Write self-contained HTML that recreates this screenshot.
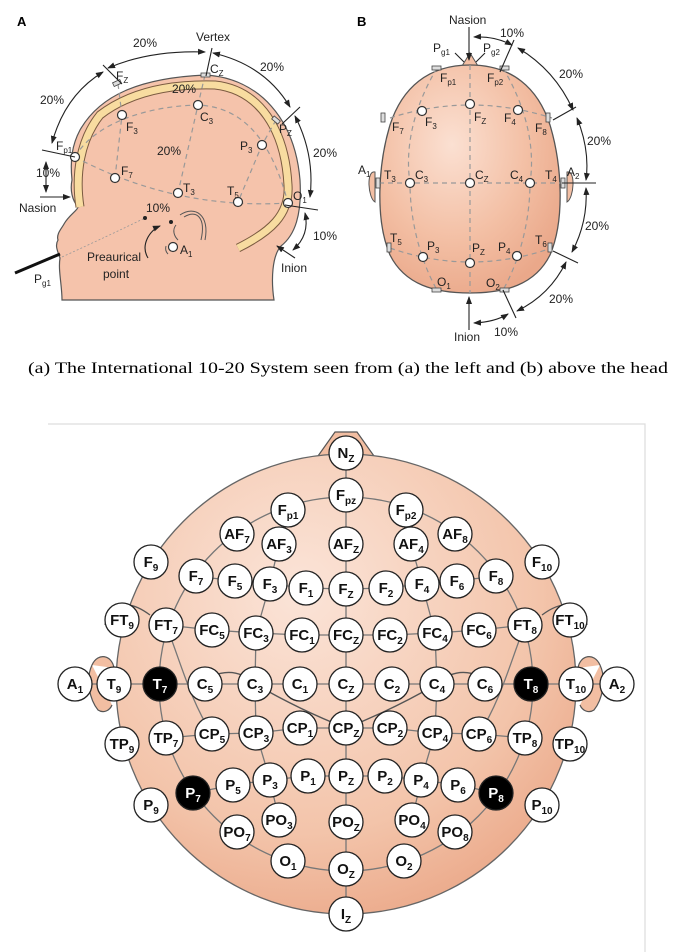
<!DOCTYPE html>
<html><head><meta charset="utf-8"><style>
html,body{margin:0;padding:0;background:#fff;}
svg{display:block;font-family:"Liberation Sans",Arial,sans-serif;}
.n circle{fill:#fff;stroke:#222;stroke-width:1.3}
.n text{font-size:15px;font-weight:bold;text-anchor:middle;fill:#111}
.b circle{fill:#000}
.b text{fill:#fff}
.s{font-size:10px}
.lbl{font-size:12px;fill:#222}
.sub{font-size:8px}
.e{fill:#fff;stroke:#333;stroke-width:1.2}
.d{fill:none;stroke:#999;stroke-width:1.2;stroke-dasharray:5,4}
.a{fill:none;stroke:#222;stroke-width:1.1}
</style></head><body>
<svg width="673" height="952" viewBox="0 0 673 952" xmlns="http://www.w3.org/2000/svg">
<defs>
<marker id="ar" markerWidth="8" markerHeight="8" refX="7" refY="4" orient="auto-start-reverse" markerUnits="userSpaceOnUse"><path d="M0,1 L8,4 L0,7 Z" fill="#222"/></marker>
<radialGradient id="hb" cx="0.4" cy="0.35" r="0.7"><stop offset="0" stop-color="#fbe0d2"/><stop offset="0.6" stop-color="#f3bfa4"/><stop offset="1" stop-color="#eaa88a"/></radialGradient>
<radialGradient id="hc" cx="0.4" cy="0.3" r="0.75"><stop offset="0" stop-color="#fbe4d8"/><stop offset="0.7" stop-color="#f3c4aa"/><stop offset="1" stop-color="#eba98a"/></radialGradient>
</defs>

<!-- ===== Panel A ===== -->
<text x="17" y="26" font-size="13" font-weight="bold">A</text>
<path d="M62,300 C62,285 58,270 60,258 C57,250 55,245 58,240 C56,234 62,228 64,224 C69,215 78,210 78,207 C72,200 70,190 72,180 C70,160 72,145 80,130 C100,95 140,78 205,75 C260,78 295,120 300,180 C302,215 295,235 281,246 C272,256 271,280 274,300 Z" fill="#f5c3ab" stroke="#555" stroke-width="1.2"/>
<path d="M80,207 C75,175 80,140 100,115 C135,88 180,84 215,85 C260,90 285,130 288,185 C290,215 270,232 238,248" fill="none" stroke="#7a5a40" stroke-width="9"/>
<path d="M80,207 C75,175 80,140 100,115 C135,88 180,84 215,85 C260,90 285,130 288,185 C290,215 270,232 238,248" fill="none" stroke="#f8dca0" stroke-width="7"/>
<path class="d" d="M75,157 C95,122 150,106 198,105 C240,107 270,135 288,203"/>
<path class="d" d="M75,157 Q175,210 288,203"/>
<path class="d" d="M118,84 L122,115 L115,178"/>
<path class="d" d="M205,75 L198,105 L178,193"/>
<path class="d" d="M276,120 L262,145 L238,202"/>
<path d="M180,215 C195,205 210,215 205,240 M184,217 C197,209 206,218 201,240 M176,225 C172,230 174,236 178,240" fill="none" stroke="#555" stroke-width="1"/>
<path d="M166,246 a8,8 0 0 0 2,8" fill="none" stroke="#555"/>
<g class="e"><circle cx="75" cy="157" r="4.5"/><circle cx="122" cy="115" r="4.5"/><circle cx="198" cy="105" r="4.5"/><circle cx="262" cy="145" r="4.5"/><circle cx="115" cy="178" r="4.5"/><circle cx="178" cy="193" r="4.5"/><circle cx="238" cy="202" r="4.5"/><circle cx="288" cy="203" r="4.5"/><circle cx="173" cy="247" r="4.5"/></g>
<g fill="#ddd" stroke="#444" stroke-width="0.8"><rect x="113" y="81" width="8" height="4" transform="rotate(-25 117 83)"/><rect x="201" y="73" width="9" height="4"/><rect x="272" y="118" width="8" height="4" transform="rotate(40 276 120)"/></g>
<g class="a">
<path d="M52,143 Q65,95 103,72" marker-start="url(#ar)" marker-end="url(#ar)"/>
<path d="M108,68 Q150,50 205,52" marker-start="url(#ar)" marker-end="url(#ar)"/>
<path d="M213,53 Q265,65 290,107" marker-start="url(#ar)" marker-end="url(#ar)"/>
<path d="M295,116 Q315,155 310,197" marker-start="url(#ar)" marker-end="url(#ar)"/>
<path d="M305,213 Q310,235 293,250" marker-start="url(#ar)" marker-end="url(#ar)"/>
<path d="M46,162 L46,192" marker-start="url(#ar)" marker-end="url(#ar)"/>
<path d="M40,197 L70,197" marker-end="url(#ar)"/>
<path d="M295,258 L277,246" marker-end="url(#ar)"/>
<path d="M103,65 L122,84 M212,48 L206,76 M282,124 L300,107 M285,205 L318,210 M42,150 L75,157"/>
<path d="M148,258 C140,245 150,230 160,226" marker-end="url(#ar)"/>
</g>
<path d="M62,257 Q110,235 145,218" fill="none" stroke="#999" stroke-width="0.8" stroke-dasharray="2,2"/>
<circle cx="145" cy="218" r="2" fill="#222"/><circle cx="171" cy="222" r="2" fill="#222"/>
<path d="M15,273 L60,254" stroke="#111" stroke-width="3"/>
<g class="lbl">
<text x="133" y="47">20%</text><text x="196" y="41">Vertex</text><text x="260" y="71">20%</text>
<text x="40" y="104">20%</text><text x="313" y="157">20%</text><text x="36" y="177">10%</text>
<text x="313" y="240">10%</text><text x="19" y="212">Nasion</text><text x="281" y="272">Inion</text>
<text x="172" y="93">20%</text><text x="157" y="155">20%</text><text x="146" y="212">10%</text>
<text x="87" y="261">Preaurical</text><text x="103" y="278">point</text>
<text x="34" y="283">P<tspan class="sub" dy="3">g1</tspan></text>
<text x="116" y="80">F<tspan class="sub" dy="3">Z</tspan></text>
<text x="210" y="73">C<tspan class="sub" dy="3">Z</tspan></text>
<text x="279" y="133">P<tspan class="sub" dy="3">Z</tspan></text>
<text x="56" y="150">F<tspan class="sub" dy="3">p1</tspan></text>
<text x="126" y="131">F<tspan class="sub" dy="3">3</tspan></text>
<text x="200" y="121">C<tspan class="sub" dy="3">3</tspan></text>
<text x="240" y="150">P<tspan class="sub" dy="3">3</tspan></text>
<text x="121" y="175">F<tspan class="sub" dy="3">7</tspan></text>
<text x="183" y="192">T<tspan class="sub" dy="3">3</tspan></text>
<text x="227" y="195">T<tspan class="sub" dy="3">5</tspan></text>
<text x="293" y="200">O<tspan class="sub" dy="3">1</tspan></text>
<text x="180" y="254">A<tspan class="sub" dy="3">1</tspan></text>
</g>

<!-- ===== Panel B ===== -->
<text x="357" y="26" font-size="13" font-weight="bold">B</text>
<path d="M375,172 C366,170 368,198 375,202 Z M567,172 C576,170 574,198 567,202 Z" fill="#f3bfa4" stroke="#555"/>
<path d="M462,66 L470,53 L478,66 Z" fill="#f3bfa4" stroke="#555"/>
<path d="M470,65 C512,65 538,88 550,125 C562,165 565,220 550,255 C535,285 505,293 470,293 C435,293 405,285 390,255 C375,220 378,165 390,125 C402,88 428,65 470,65 Z" fill="url(#hb)" stroke="#555" stroke-width="1.3"/>
<g class="d">
<path d="M470,65 L470,293"/><path d="M379,183 L563,183"/>
<path d="M390,118 Q470,92 552,118"/><path d="M390,248 Q470,276 552,248"/>
<path d="M437,68 C412,110 405,150 410,183 C410,220 420,260 437,290"/>
<path d="M503,68 C528,110 535,150 530,183 C530,220 520,260 503,290"/>
</g>
<g class="e"><circle cx="470" cy="104" r="4.5"/><circle cx="422" cy="111" r="4.5"/><circle cx="518" cy="110" r="4.5"/><circle cx="410" cy="183" r="4.5"/><circle cx="470" cy="183" r="4.5"/><circle cx="530" cy="183" r="4.5"/><circle cx="423" cy="257" r="4.5"/><circle cx="470" cy="263" r="4.5"/><circle cx="517" cy="256" r="4.5"/></g>
<g fill="#ddd" stroke="#444" stroke-width="0.8">
<rect x="432" y="66" width="9" height="4"/><rect x="500" y="66" width="9" height="4"/>
<rect x="381" y="113" width="4" height="9"/><rect x="546" y="113" width="4" height="9"/>
<rect x="376" y="178" width="4" height="10"/><rect x="561" y="178" width="4" height="10"/>
<rect x="387" y="243" width="4" height="9"/><rect x="548" y="243" width="4" height="9"/>
<rect x="432" y="288" width="9" height="4"/><rect x="500" y="288" width="9" height="4"/>
</g>
<g class="a">
<path d="M469,27 L469,60" marker-end="url(#ar)"/><path d="M469,330 L469,297" marker-end="url(#ar)"/>
<path d="M474,37 Q495,36 512,45" marker-start="url(#ar)" marker-end="url(#ar)"/>
<path d="M518,48 Q555,70 573,110" marker-start="url(#ar)" marker-end="url(#ar)"/>
<path d="M577,118 Q590,150 586,180" marker-start="url(#ar)" marker-end="url(#ar)"/>
<path d="M586,188 Q588,222 572,252" marker-start="url(#ar)" marker-end="url(#ar)"/>
<path d="M566,262 Q550,295 517,311" marker-start="url(#ar)" marker-end="url(#ar)"/>
<path d="M474,323 Q495,322 508,314" marker-start="url(#ar)" marker-end="url(#ar)"/>
<path d="M500,72 L514,40 M553,120 L576,107 M562,183 L596,183 M553,251 L578,263 M503,290 L516,318"/>
<path d="M455,53 L464,62 M485,53 L476,62"/>
</g>
<g class="lbl">
<text x="449" y="24">Nasion</text><text x="454" y="341">Inion</text>
<text x="500" y="37">10%</text><text x="559" y="78">20%</text><text x="587" y="145">20%</text>
<text x="585" y="230">20%</text><text x="549" y="303">20%</text><text x="494" y="336">10%</text>
<text x="433" y="52">P<tspan class="sub" dy="3">g1</tspan></text>
<text x="483" y="52">P<tspan class="sub" dy="3">g2</tspan></text>
<text x="440" y="82">F<tspan class="sub" dy="3">p1</tspan></text>
<text x="487" y="82">F<tspan class="sub" dy="3">p2</tspan></text>
<text x="392" y="131">F<tspan class="sub" dy="3">7</tspan></text>
<text x="425" y="126">F<tspan class="sub" dy="3">3</tspan></text>
<text x="474" y="121">F<tspan class="sub" dy="3">Z</tspan></text>
<text x="504" y="122">F<tspan class="sub" dy="3">4</tspan></text>
<text x="535" y="132">F<tspan class="sub" dy="3">8</tspan></text>
<text x="358" y="174">A<tspan class="sub" dy="3">1</tspan></text>
<text x="384" y="179">T<tspan class="sub" dy="3">3</tspan></text>
<text x="415" y="179">C<tspan class="sub" dy="3">3</tspan></text>
<text x="475" y="179">C<tspan class="sub" dy="3">Z</tspan></text>
<text x="510" y="179">C<tspan class="sub" dy="3">4</tspan></text>
<text x="545" y="179">T<tspan class="sub" dy="3">4</tspan></text>
<text x="567" y="176">A<tspan class="sub" dy="3">2</tspan></text>
<text x="390" y="242">T<tspan class="sub" dy="3">5</tspan></text>
<text x="427" y="250">P<tspan class="sub" dy="3">3</tspan></text>
<text x="472" y="252">P<tspan class="sub" dy="3">Z</tspan></text>
<text x="498" y="251">P<tspan class="sub" dy="3">4</tspan></text>
<text x="535" y="244">T<tspan class="sub" dy="3">6</tspan></text>
<text x="437" y="286">O<tspan class="sub" dy="3">1</tspan></text>
<text x="486" y="287">O<tspan class="sub" dy="3">2</tspan></text>
</g>

<!-- caption -->
<text x="28" y="373" font-family="Liberation Serif, serif" font-size="16" textLength="640" lengthAdjust="spacingAndGlyphs">(a)  The International 10-20 System seen from (a) the left and (b) above the head</text>

<!-- ===== Bottom panel ===== -->
<path d="M48,424 L645,424 L645,952" fill="none" stroke="#ddd" stroke-width="1.2"/>
<path d="M92,665 C98,652 112,655 114,668 M92,665 C85,680 90,700 98,710 C104,714 110,710 112,705 M600,665 C594,652 580,655 578,668 M600,665 C607,680 602,700 594,710 C588,714 582,710 580,705" fill="#f2bea2" stroke="#555" stroke-width="1.2"/>
<path d="M318,456 L335,432 L357,432 L374,456 Z" fill="#f2bea2" stroke="#555" stroke-width="1.2"/>
<circle cx="346" cy="684" r="230" fill="url(#hc)" stroke="#666" stroke-width="1.3"/>
<g fill="none" stroke="#777" stroke-width="1.3">
<circle cx="346" cy="684" r="187"/>
<path d="M346,453 L346,915"/>
<path d="M75,684 L617,684"/>
<path d="M196,576 L235,581 L270,584 L306,588 L346,589 L386,588 L422,584 L457,581 L496,576"/>
<path d="M166,625 L212,630 L256,633 L302,635 L346,635 L390,635 L435,633 L479,630 L525,625"/>
<path d="M166,738 L212,734 L256,733 L300,728 L346,728 L390,728 L435,733 L479,734 L525,738"/>
<path d="M193,793 L233,785 L270,780 L308,776 L346,776 L385,776 L421,780 L458,785 L496,793"/>
<path d="M279,544 L270,584 L256,633 L255,684 L256,733 L270,780 L279,820"/>
<path d="M411,544 L422,584 L435,633 L437,684 L435,733 L421,780 L412,820"/>
<path d="M166,625 C180,660 190,700 212,734"/>
<path d="M525,625 C511,660 501,700 479,734"/>
<path d="M195,686 Q230,660 255,684 Q300,710 346,728 Q392,710 437,684 Q462,660 497,686" stroke="#555"/>
<path d="M105,625 C110,600 130,600 150,615 M587,625 C582,600 562,600 542,615" stroke="#555"/>
</g>
<g id="nodes">
<g class="n" transform="translate(346,453)"><circle r="17"/><text y="5">N<tspan class="s" dy="4">Z</tspan></text></g>
<g class="n" transform="translate(346,495)"><circle r="17"/><text y="5">F<tspan class="s" dy="4">pz</tspan></text></g>
<g class="n" transform="translate(288,510)"><circle r="17"/><text y="5">F<tspan class="s" dy="4">p1</tspan></text></g>
<g class="n" transform="translate(406,510)"><circle r="17"/><text y="5">F<tspan class="s" dy="4">p2</tspan></text></g>
<g class="n" transform="translate(237,534)"><circle r="17"/><text y="5">AF<tspan class="s" dy="4">7</tspan></text></g>
<g class="n" transform="translate(279,544)"><circle r="17"/><text y="5">AF<tspan class="s" dy="4">3</tspan></text></g>
<g class="n" transform="translate(346,544)"><circle r="17"/><text y="5">AF<tspan class="s" dy="4">Z</tspan></text></g>
<g class="n" transform="translate(411,544)"><circle r="17"/><text y="5">AF<tspan class="s" dy="4">4</tspan></text></g>
<g class="n" transform="translate(455,534)"><circle r="17"/><text y="5">AF<tspan class="s" dy="4">8</tspan></text></g>
<g class="n" transform="translate(151,562)"><circle r="17"/><text y="5">F<tspan class="s" dy="4">9</tspan></text></g>
<g class="n" transform="translate(196,576)"><circle r="17"/><text y="5">F<tspan class="s" dy="4">7</tspan></text></g>
<g class="n" transform="translate(235,581)"><circle r="17"/><text y="5">F<tspan class="s" dy="4">5</tspan></text></g>
<g class="n" transform="translate(270,584)"><circle r="17"/><text y="5">F<tspan class="s" dy="4">3</tspan></text></g>
<g class="n" transform="translate(306,588)"><circle r="17"/><text y="5">F<tspan class="s" dy="4">1</tspan></text></g>
<g class="n" transform="translate(346,589)"><circle r="17"/><text y="5">F<tspan class="s" dy="4">Z</tspan></text></g>
<g class="n" transform="translate(386,588)"><circle r="17"/><text y="5">F<tspan class="s" dy="4">2</tspan></text></g>
<g class="n" transform="translate(422,584)"><circle r="17"/><text y="5">F<tspan class="s" dy="4">4</tspan></text></g>
<g class="n" transform="translate(457,581)"><circle r="17"/><text y="5">F<tspan class="s" dy="4">6</tspan></text></g>
<g class="n" transform="translate(496,576)"><circle r="17"/><text y="5">F<tspan class="s" dy="4">8</tspan></text></g>
<g class="n" transform="translate(542,562)"><circle r="17"/><text y="5">F<tspan class="s" dy="4">10</tspan></text></g>
<g class="n" transform="translate(122,620)"><circle r="17"/><text y="5">FT<tspan class="s" dy="4">9</tspan></text></g>
<g class="n" transform="translate(166,625)"><circle r="17"/><text y="5">FT<tspan class="s" dy="4">7</tspan></text></g>
<g class="n" transform="translate(212,630)"><circle r="17"/><text y="5">FC<tspan class="s" dy="4">5</tspan></text></g>
<g class="n" transform="translate(256,633)"><circle r="17"/><text y="5">FC<tspan class="s" dy="4">3</tspan></text></g>
<g class="n" transform="translate(302,635)"><circle r="17"/><text y="5">FC<tspan class="s" dy="4">1</tspan></text></g>
<g class="n" transform="translate(346,635)"><circle r="17"/><text y="5">FC<tspan class="s" dy="4">Z</tspan></text></g>
<g class="n" transform="translate(390,635)"><circle r="17"/><text y="5">FC<tspan class="s" dy="4">2</tspan></text></g>
<g class="n" transform="translate(435,633)"><circle r="17"/><text y="5">FC<tspan class="s" dy="4">4</tspan></text></g>
<g class="n" transform="translate(479,630)"><circle r="17"/><text y="5">FC<tspan class="s" dy="4">6</tspan></text></g>
<g class="n" transform="translate(525,625)"><circle r="17"/><text y="5">FT<tspan class="s" dy="4">8</tspan></text></g>
<g class="n" transform="translate(570,620)"><circle r="17"/><text y="5">FT<tspan class="s" dy="4">10</tspan></text></g>
<g class="n" transform="translate(75,684)"><circle r="17"/><text y="5">A<tspan class="s" dy="4">1</tspan></text></g>
<g class="n" transform="translate(114,684)"><circle r="17"/><text y="5">T<tspan class="s" dy="4">9</tspan></text></g>
<g class="n b" transform="translate(160,684)"><circle r="17"/><text y="5">T<tspan class="s" dy="4">7</tspan></text></g>
<g class="n" transform="translate(205,684)"><circle r="17"/><text y="5">C<tspan class="s" dy="4">5</tspan></text></g>
<g class="n" transform="translate(255,684)"><circle r="17"/><text y="5">C<tspan class="s" dy="4">3</tspan></text></g>
<g class="n" transform="translate(300,684)"><circle r="17"/><text y="5">C<tspan class="s" dy="4">1</tspan></text></g>
<g class="n" transform="translate(346,684)"><circle r="17"/><text y="5">C<tspan class="s" dy="4">Z</tspan></text></g>
<g class="n" transform="translate(392,684)"><circle r="17"/><text y="5">C<tspan class="s" dy="4">2</tspan></text></g>
<g class="n" transform="translate(437,684)"><circle r="17"/><text y="5">C<tspan class="s" dy="4">4</tspan></text></g>
<g class="n" transform="translate(485,684)"><circle r="17"/><text y="5">C<tspan class="s" dy="4">6</tspan></text></g>
<g class="n b" transform="translate(531,684)"><circle r="17"/><text y="5">T<tspan class="s" dy="4">8</tspan></text></g>
<g class="n" transform="translate(576,684)"><circle r="17"/><text y="5">T<tspan class="s" dy="4">10</tspan></text></g>
<g class="n" transform="translate(617,684)"><circle r="17"/><text y="5">A<tspan class="s" dy="4">2</tspan></text></g>
<g class="n" transform="translate(122,744)"><circle r="17"/><text y="5">TP<tspan class="s" dy="4">9</tspan></text></g>
<g class="n" transform="translate(166,738)"><circle r="17"/><text y="5">TP<tspan class="s" dy="4">7</tspan></text></g>
<g class="n" transform="translate(212,734)"><circle r="17"/><text y="5">CP<tspan class="s" dy="4">5</tspan></text></g>
<g class="n" transform="translate(256,733)"><circle r="17"/><text y="5">CP<tspan class="s" dy="4">3</tspan></text></g>
<g class="n" transform="translate(300,728)"><circle r="17"/><text y="5">CP<tspan class="s" dy="4">1</tspan></text></g>
<g class="n" transform="translate(346,728)"><circle r="17"/><text y="5">CP<tspan class="s" dy="4">Z</tspan></text></g>
<g class="n" transform="translate(390,728)"><circle r="17"/><text y="5">CP<tspan class="s" dy="4">2</tspan></text></g>
<g class="n" transform="translate(435,733)"><circle r="17"/><text y="5">CP<tspan class="s" dy="4">4</tspan></text></g>
<g class="n" transform="translate(479,734)"><circle r="17"/><text y="5">CP<tspan class="s" dy="4">6</tspan></text></g>
<g class="n" transform="translate(525,738)"><circle r="17"/><text y="5">TP<tspan class="s" dy="4">8</tspan></text></g>
<g class="n" transform="translate(570,744)"><circle r="17"/><text y="5">TP<tspan class="s" dy="4">10</tspan></text></g>
<g class="n" transform="translate(151,805)"><circle r="17"/><text y="5">P<tspan class="s" dy="4">9</tspan></text></g>
<g class="n b" transform="translate(193,793)"><circle r="17"/><text y="5">P<tspan class="s" dy="4">7</tspan></text></g>
<g class="n" transform="translate(233,785)"><circle r="17"/><text y="5">P<tspan class="s" dy="4">5</tspan></text></g>
<g class="n" transform="translate(270,780)"><circle r="17"/><text y="5">P<tspan class="s" dy="4">3</tspan></text></g>
<g class="n" transform="translate(308,776)"><circle r="17"/><text y="5">P<tspan class="s" dy="4">1</tspan></text></g>
<g class="n" transform="translate(346,776)"><circle r="17"/><text y="5">P<tspan class="s" dy="4">Z</tspan></text></g>
<g class="n" transform="translate(385,776)"><circle r="17"/><text y="5">P<tspan class="s" dy="4">2</tspan></text></g>
<g class="n" transform="translate(421,780)"><circle r="17"/><text y="5">P<tspan class="s" dy="4">4</tspan></text></g>
<g class="n" transform="translate(458,785)"><circle r="17"/><text y="5">P<tspan class="s" dy="4">6</tspan></text></g>
<g class="n b" transform="translate(496,793)"><circle r="17"/><text y="5">P<tspan class="s" dy="4">8</tspan></text></g>
<g class="n" transform="translate(542,805)"><circle r="17"/><text y="5">P<tspan class="s" dy="4">10</tspan></text></g>
<g class="n" transform="translate(237,832)"><circle r="17"/><text y="5">PO<tspan class="s" dy="4">7</tspan></text></g>
<g class="n" transform="translate(279,820)"><circle r="17"/><text y="5">PO<tspan class="s" dy="4">3</tspan></text></g>
<g class="n" transform="translate(346,822)"><circle r="17"/><text y="5">PO<tspan class="s" dy="4">Z</tspan></text></g>
<g class="n" transform="translate(412,820)"><circle r="17"/><text y="5">PO<tspan class="s" dy="4">4</tspan></text></g>
<g class="n" transform="translate(455,832)"><circle r="17"/><text y="5">PO<tspan class="s" dy="4">8</tspan></text></g>
<g class="n" transform="translate(288,861)"><circle r="17"/><text y="5">O<tspan class="s" dy="4">1</tspan></text></g>
<g class="n" transform="translate(346,869)"><circle r="17"/><text y="5">O<tspan class="s" dy="4">Z</tspan></text></g>
<g class="n" transform="translate(404,861)"><circle r="17"/><text y="5">O<tspan class="s" dy="4">2</tspan></text></g>
<g class="n" transform="translate(346,914)"><circle r="17"/><text y="5">I<tspan class="s" dy="4">Z</tspan></text></g>
</g>
</svg>
</body></html>
